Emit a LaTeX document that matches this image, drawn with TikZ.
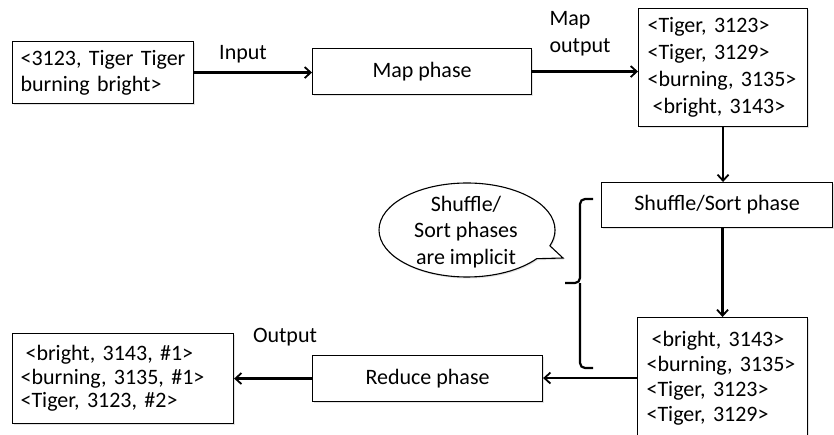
\documentclass[tikz,border=0pt]{standalone}
\usepackage{fontspec}
\setmainfont{Carlito}
\usetikzlibrary{arrows.meta,shapes.callouts,shadows}

\tikzset{
  shade/.style={drop shadow={shadow xshift=1pt,shadow yshift=-1.5pt,opacity=0.22,fill=gray}},
  databox/.style={draw=black,line width=1.1pt,fill=white,shade,anchor=north west,
    align=left,inner xsep=8pt,inner ysep=2pt,font=\fontsize{22}{26}\selectfont},
  phasebox/.style={draw=black,line width=1.1pt,fill=white,shade,anchor=north west,
    align=center,inner sep=0pt,font=\fontsize{22}{26}\selectfont},
  lbl/.style={align=center,inner sep=0pt,font=\fontsize{22}{27}\selectfont},
  arr/.style={line width=2.2pt,-{Straight Barb[length=6pt,width=11pt,line width=1.8pt]}},
  brc/.style={line width=2.2pt,rounded corners=5pt},
}

\begin{document}
\begin{tikzpicture}[x=1pt,y=-1pt]
  \useasboundingbox (0,0) rectangle (834,435);

  % input record
  \node[databox,text width=165pt,minimum height=62pt] (inp) at (12,41)
    {<3123, Tiger Tiger\\burning bright>};
  \node[lbl] (inlbl) at (243,54) {Input};

  % map phase
  \node[phasebox,minimum width=219pt,minimum height=46pt] (map) at (312,48) {Map phase};

  % map output
  \node[databox,text width=151pt,inner xsep=9pt,minimum height=118pt,
        font=\fontsize{22}{27}\selectfont] (mout) at (638,8)
    {<Tiger, 3123>\\<Tiger, 3129>\\<burning, 3135>\\\hspace*{5pt}<bright, 3143>};
  \node[lbl,align=left] (moutlbl) at (580,34) {Map\\output};

  % shuffle / sort
  \node[phasebox,minimum width=231pt,minimum height=45pt] (shuf) at (601,182) {Shuffle/Sort phase};

  % sorted records
  \node[databox,text width=152pt,inner xsep=9pt,minimum height=121pt,
        font=\fontsize{22}{25}\selectfont] (sorted) at (637,317)
    {\hspace*{5pt}<bright, 3143>\\<burning, 3135>\\<Tiger, 3123>\\<Tiger, 3129>};

  % reduce phase
  \node[phasebox,minimum width=230pt,minimum height=46pt] (red) at (312,355) {Reduce phase};

  % final output
  \node[databox,text width=205pt,minimum height=90pt,
        font=\fontsize{22}{23.3}\selectfont] (out) at (12,333)
    {\hspace*{5pt}<bright, 3143, \#1>\\<burning, 3135, \#1>\\<Tiger, 3123, \#2>};
  \node[lbl] (outlbl) at (285,337) {Output};

  % remark bubble and its text
  \node[ellipse callout,draw=black,line width=1.1pt,fill=white,shade,
        minimum width=176pt,minimum height=94pt,inner sep=0pt,
        callout absolute pointer={(563,258)},callout pointer arc=18] (note) at (467,230) {};
  \node[lbl,font=\fontsize{22}{26.5}\selectfont] (notetext) at (466,232)
    {Shuffle/\\Sort phases\\are implicit};

  % brace spanning shuffle and sort
  \draw[brc] (593,199) -| (580,283) -- (565,283);
  \draw[brc] (593,368) -| (580,283);

  % flow
  \draw[arr] (inp.east) -- (inp.east -| map.west);
  \draw[arr] (map.east) -- (map.east -| mout.west);
  \draw[arr] (mout.south) -- (mout.south |- shuf.north);
  \draw[arr] (sorted.north |- shuf.south) -- (sorted.north);
  \draw[arr] (sorted.west) -- (sorted.west -| red.east);
  \draw[arr] (red.west) -- (red.west -| out.east);
\end{tikzpicture}
\end{document}
